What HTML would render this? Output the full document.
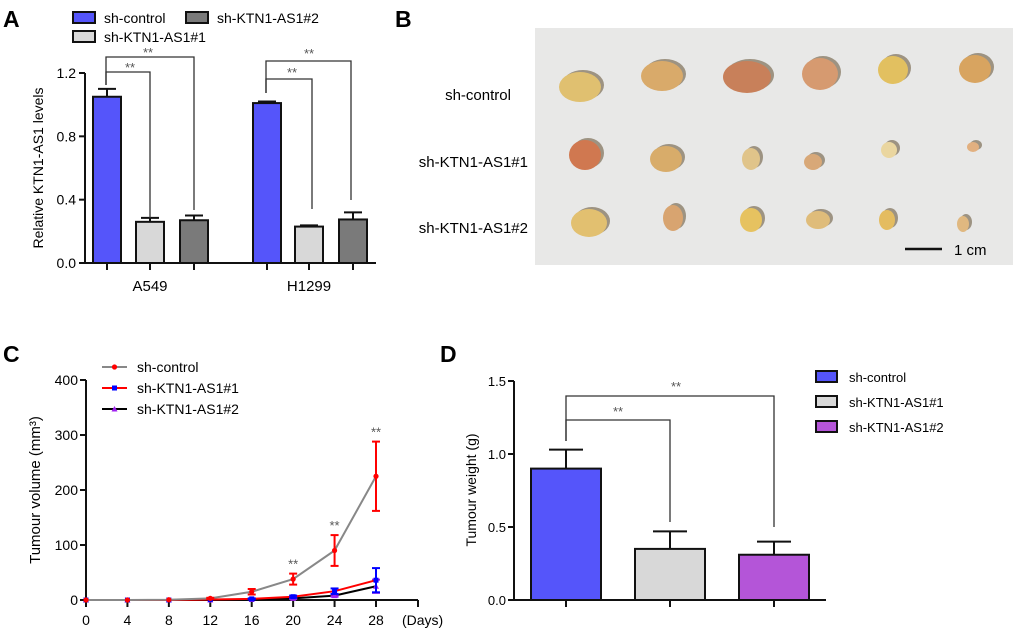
<!DOCTYPE html>
<html><head><meta charset="utf-8"><style>
html,body{margin:0;padding:0;background:#fff;}
svg{display:block;font-family:"Liberation Sans",Arial,sans-serif;}
</style></head><body>
<svg id="fig" width="1020" height="634" viewBox="0 0 1020 634" xmlns="http://www.w3.org/2000/svg">
<g font-weight="bold" font-size="23">
<text x="3" y="27">A</text>
<text x="395" y="27">B</text>
<text x="3" y="362">C</text>
<text x="440" y="362">D</text>
</g>
<g id="pa"></g>
<g id="pb"></g>
<g id="pc"></g>
<g id="pd"></g>
</svg>
<script>
// Panel A data
const aGroups = ['A549', 'H1299'];
const aSeries = ['sh-control', 'sh-KTN1-AS1#1', 'sh-KTN1-AS1#2'];
const aValues = [[1.05, 0.26, 0.27], [1.01, 0.23, 0.275]];
const aErrors = [[0.05, 0.025, 0.03], [0.01, 0.008, 0.045]];
const aTicks = [0.0, 0.4, 0.8, 1.2];
// Panel C data
const cDays = [0, 4, 8, 12, 16, 20, 24, 28];
const cControl = [0, 0, 0.5, 3, 15, 38, 90, 225];
const cControlErr = [0, 0, 0, 1, 5, 10, 28, 63];
const cKd1 = [0, 0, 0, 1, 2, 6, 16, 36];
const cKd1Err = [0, 0, 0, 0, 1, 2, 5, 22];
const cKd2 = [0, 0, 0, 0, 1, 3, 8, 25];
const cKd2Err = [0, 0, 0, 0, 0, 1, 2, 12];
const cYTicks = [0, 100, 200, 300, 400];
// Panel D data
const dGroups = ['sh-control', 'sh-KTN1-AS1#1', 'sh-KTN1-AS1#2'];
const dValues = [0.9, 0.35, 0.31];
const dErrors = [0.13, 0.12, 0.09];
const dTicks = [0.0, 0.5, 1.0, 1.5];

const NS = 'http://www.w3.org/2000/svg';
function mk(parent, tag, attrs, text) {
  const e = document.createElementNS(NS, tag);
  for (const k in attrs) e.setAttribute(k, attrs[k]);
  if (text !== undefined) e.textContent = text;
  parent.appendChild(e);
  return e;
}
function named(e, n) {
  
  
  return e;
}
const K = '#111';

// ===== Panel A =====
(function () {
  const g = document.getElementById('pa');
  const x0 = 85, y0 = 263, yTop = 73, xEnd = 376;
  const ya = v => y0 - (v - 0) / 1.2 * (y0 - yTop);
  const barLeft = [[93, 136, 180], [253, 295, 339]];
  const bw = 28;
  const fills = ['#5555fa', '#d8d8d8', '#7a7a7a'];
  named(mk(g, 'line', {x1: x0, y1: yTop, x2: x0, y2: y0 + 1, stroke: K, 'stroke-width': 2}), 'y-axis-a');
  named(mk(g, 'line', {x1: x0 - 1, y1: y0, x2: xEnd, y2: y0, stroke: K, 'stroke-width': 2}), 'x-axis-a');
  aTicks.forEach(t => {
    const y = ya(t);
    named(mk(g, 'line', {x1: x0 - 6, y1: y, x2: x0, y2: y, stroke: K, 'stroke-width': 2}), 'y-tick-a');
    named(mk(g, 'text', {x: x0 - 9, y: y + 5, 'text-anchor': 'end', 'font-size': 14}, t.toFixed(1)), 'y-tick-label-a');
  });
  aGroups.forEach((grp, gi) => {
    aSeries.forEach((s, si) => {
      const bx = barLeft[gi][si], v = aValues[gi][si], er = aErrors[gi][si];
      const cx = bx + bw / 2;
      named(mk(g, 'line', {x1: cx, y1: ya(v), x2: cx, y2: ya(v + er), stroke: K, 'stroke-width': 2}), 'error-bar-a');
      named(mk(g, 'line', {x1: cx - 9, y1: ya(v + er), x2: cx + 9, y2: ya(v + er), stroke: K, 'stroke-width': 2}), 'error-cap-a');
      const r = mk(g, 'rect', {x: bx, y: ya(v), width: bw, height: y0 - ya(v), fill: fills[si], stroke: K, 'stroke-width': 2});
      
      
      named(mk(g, 'line', {x1: cx, y1: y0, x2: cx, y2: y0 + 7, stroke: K, 'stroke-width': 2}), 'x-tick-a');
    });
    const mid = barLeft[gi][1] + bw / 2;
    named(mk(g, 'text', {x: mid, y: 291, 'text-anchor': 'middle', 'font-size': 15}, grp), 'x-category-label');
  });
  // brackets
  const br = [
    {x1: 106, x2: 194, y: 57, yl: 85, yr: 210, sx: 148, sy: 57},
    {x1: 106, x2: 150, y: 72, yl: 85, yr: 218, sx: 130, sy: 72},
    {x1: 266, x2: 351, y: 61, yl: 93, yr: 200, sx: 309, sy: 58},
    {x1: 266, x2: 312, y: 79, yl: 93, yr: 209, sx: 292, sy: 77}
  ];
  br.forEach(b => {
    named(mk(g, 'polyline', {points: `${b.x1},${b.yl} ${b.x1},${b.y} ${b.x2},${b.y} ${b.x2},${b.yr}`, fill: 'none', stroke: '#333', 'stroke-width': 1.3}), 'significance-bracket');
    named(mk(g, 'text', {x: b.sx, y: b.sy, 'text-anchor': 'middle', 'font-size': 13, fill: '#555'}, '**'), 'significance-stars');
  });
  named(mk(g, 'text', {x: 0, y: 0, transform: 'translate(43,168) rotate(-90)', 'text-anchor': 'middle', 'font-size': 14}, 'Relative KTN1-AS1 levels'), 'y-axis-title-a');
  const leg = [[73, 12, 0], [186, 12, 2], [73, 31, 1]];
  leg.forEach(l => {
    named(mk(g, 'rect', {x: l[0], y: l[1], width: 22, height: 11, fill: fills[l[2]], stroke: K, 'stroke-width': 2}), 'legend-swatch-a');
    named(mk(g, 'text', {x: l[0] + 31, y: l[1] + 11, 'font-size': 14}, aSeries[l[2]]), 'legend-label-a');
  });
})();

// ===== Panel B (photo) =====
(function () {
  const g = document.getElementById('pb');
  named(mk(g, 'rect', {x: 535, y: 28, width: 478, height: 237, fill: '#e8e8e7'}), 'photo-background');
  const tumors = [
    [580,87,21,15,'#e0c070'],[662,76,21,15,'#d9aa6a'],[747,77,24,16,'#c8805a'],[820,74,18,16,'#d69a70'],[893,70,15,14,'#e2c060'],[975,69,16,14,'#d8a460'],
    [585,155,16,15,'#d07850'],[666,159,16,13,'#d8ac6a'],[751,159,9,11,'#e0c48a'],[813,162,9,8,'#d8a878'],[889,150,8,8,'#ead6a0'],[973,147,6,5,'#e2b080'],
    [589,223,18,14,'#e2c070'],[673,218,10,13,'#d8a470'],[751,220,11,12,'#e6c260'],[818,220,12,9,'#dfbc7a'],[887,220,8,10,'#e4bc60'],[963,224,6,8,'#e0b880']
  ];
  tumors.forEach(t => {
    named(mk(g, 'ellipse', {cx: t[0] + 3, cy: t[1] - 2, rx: t[2], ry: t[3], fill: '#6a5a40', opacity: 0.6}), 'tumour-shadow');
    named(mk(g, 'ellipse', {cx: t[0], cy: t[1], rx: t[2], ry: t[3], fill: t[4]}), 'tumour');
  });
  named(mk(g, 'line', {x1: 905, y1: 249, x2: 942, y2: 249, stroke: K, 'stroke-width': 2.5}), 'scale-bar');
  named(mk(g, 'text', {x: 954, y: 255, 'font-size': 15}, '1 cm'), 'scale-bar-label');
  named(mk(g, 'text', {x: 478, y: 100, 'text-anchor': 'middle', 'font-size': 15}, 'sh-control'), 'row-label-control');
  named(mk(g, 'text', {x: 528, y: 167, 'text-anchor': 'end', 'font-size': 15}, 'sh-KTN1-AS1#1'), 'row-label-kd1');
  named(mk(g, 'text', {x: 528, y: 233, 'text-anchor': 'end', 'font-size': 15}, 'sh-KTN1-AS1#2'), 'row-label-kd2');
})();

// ===== Panel C =====
(function () {
  const g = document.getElementById('pc');
  const x0 = 86, y0 = 600, yTop = 380, xEnd = 418;
  const xc = d => x0 + d / 28 * (376 - x0);
  const yc = v => y0 - v / 400 * (y0 - yTop);
  named(mk(g, 'line', {x1: x0, y1: yTop, x2: x0, y2: y0 + 1, stroke: K, 'stroke-width': 2}), 'y-axis-c');
  named(mk(g, 'line', {x1: x0 - 1, y1: y0, x2: xEnd, y2: y0, stroke: K, 'stroke-width': 2}), 'x-axis-c');
  named(mk(g, 'line', {x1: xEnd, y1: y0, x2: xEnd, y2: y0 + 7, stroke: K, 'stroke-width': 2}), 'x-tick-c');
  cYTicks.forEach(t => {
    named(mk(g, 'line', {x1: x0 - 6, y1: yc(t), x2: x0, y2: yc(t), stroke: K, 'stroke-width': 2}), 'y-tick-c');
    named(mk(g, 'text', {x: x0 - 8, y: yc(t) + 5, 'text-anchor': 'end', 'font-size': 14}, String(t)), 'y-tick-label-c');
  });
  cDays.forEach(d => {
    named(mk(g, 'line', {x1: xc(d), y1: y0, x2: xc(d), y2: y0 + 7, stroke: K, 'stroke-width': 2}), 'x-tick-c');
    named(mk(g, 'text', {x: xc(d), y: 625, 'text-anchor': 'middle', 'font-size': 14}, String(d)), 'x-tick-label-c');
  });
  named(mk(g, 'text', {x: 402, y: 625, 'font-size': 14}, '(Days)'), 'x-axis-title-c');
  named(mk(g, 'text', {x: 0, y: 0, transform: 'translate(40,490) rotate(-90)', 'text-anchor': 'middle', 'font-size': 15}, 'Tumour volume (mm³)'), 'y-axis-title-c');
  const series = [
    {name: 'sh-control', v: cControl, e: cControlErr, line: '#888', mark: '#f00', shape: 'circle'},
    {name: 'sh-KTN1-AS1#1', v: cKd1, e: cKd1Err, line: '#f00', mark: '#00f', shape: 'square'},
    {name: 'sh-KTN1-AS1#2', v: cKd2, e: cKd2Err, line: '#000', mark: '#a020f0', shape: 'tri'}
  ];
  function marker(p, x, y, s) {
    if (s.shape === 'circle') return mk(p, 'circle', {cx: x, cy: y, r: 2.6, fill: s.mark});
    if (s.shape === 'square') return mk(p, 'rect', {x: x - 2.5, y: y - 2.5, width: 5, height: 5, fill: s.mark});
    return mk(p, 'polygon', {points: `${x},${y - 3} ${x - 3},${y + 2.5} ${x + 3},${y + 2.5}`, fill: s.mark});
  }
  series.slice().reverse().forEach(s => {
    const pts = cDays.map((d, i) => `${xc(d)},${yc(s.v[i])}`).join(' ');
    named(mk(g, 'polyline', {points: pts, fill: 'none', stroke: s.line, 'stroke-width': 2}), 'series-line-' + s.name);
    cDays.forEach((d, i) => {
      if (s.e[i] > 0) {
        const x = xc(d), ec = s.shape === 'circle' ? '#f00' : s.mark;
        named(mk(g, 'line', {x1: x, y1: yc(s.v[i] + s.e[i]), x2: x, y2: yc(Math.max(0, s.v[i] - s.e[i])), stroke: ec, 'stroke-width': 2}), 'error-bar-c');
        named(mk(g, 'line', {x1: x - 4, y1: yc(s.v[i] + s.e[i]), x2: x + 4, y2: yc(s.v[i] + s.e[i]), stroke: ec, 'stroke-width': 2}), 'error-cap-c');
        named(mk(g, 'line', {x1: x - 4, y1: yc(Math.max(0, s.v[i] - s.e[i])), x2: x + 4, y2: yc(Math.max(0, s.v[i] - s.e[i])), stroke: ec, 'stroke-width': 2}), 'error-cap-c');
      }
      const m = marker(g, xc(d), yc(s.v[i]), s);
      
      
    });
  });
  [5, 6, 7].forEach(i => {
    const top = cControl[i] + cControlErr[i];
    named(mk(g, 'text', {x: xc(cDays[i]), y: yc(top) - 5, 'text-anchor': 'middle', 'font-size': 13, fill: '#555'}, '**'), 'significance-stars-c');
  });
  series.forEach((s, i) => {
    const y = 367 + i * 21;
    named(mk(g, 'line', {x1: 102, y1: y, x2: 127, y2: y, stroke: s.line, 'stroke-width': 2}), 'legend-line-c');
    named(marker(g, 114.5, y, s), 'legend-marker-c');
    named(mk(g, 'text', {x: 137, y: y + 5, 'font-size': 14}, s.name), 'legend-label-c');
  });
})();

// ===== Panel D =====
(function () {
  const g = document.getElementById('pd');
  const x0 = 514, y0 = 600, yTop = 381, xEnd = 826;
  const yd = v => y0 - v / 1.5 * (y0 - yTop);
  const barLeft = [531, 635, 739], bw = 70;
  const fills = ['#5555fa', '#d8d8d8', '#b455d8'];
  named(mk(g, 'line', {x1: x0, y1: yTop, x2: x0, y2: y0 + 1, stroke: K, 'stroke-width': 2}), 'y-axis-d');
  named(mk(g, 'line', {x1: x0 - 6, y1: y0, x2: xEnd, y2: y0, stroke: K, 'stroke-width': 2}), 'x-axis-d');
  dTicks.forEach(t => {
    named(mk(g, 'line', {x1: x0 - 6, y1: yd(t), x2: x0, y2: yd(t), stroke: K, 'stroke-width': 2}), 'y-tick-d');
    named(mk(g, 'text', {x: x0 - 8, y: yd(t) + 5, 'text-anchor': 'end', 'font-size': 13}, t.toFixed(1)), 'y-tick-label-d');
  });
  dGroups.forEach((grp, i) => {
    const bx = barLeft[i], cx = bx + bw / 2, v = dValues[i], er = dErrors[i];
    named(mk(g, 'line', {x1: cx, y1: yd(v), x2: cx, y2: yd(v + er), stroke: K, 'stroke-width': 2}), 'error-bar-d');
    named(mk(g, 'line', {x1: cx - 17, y1: yd(v + er), x2: cx + 17, y2: yd(v + er), stroke: K, 'stroke-width': 2}), 'error-cap-d');
    const r = mk(g, 'rect', {x: bx, y: yd(v), width: bw, height: y0 - yd(v), fill: fills[i], stroke: K, 'stroke-width': 2});
    
    
    named(mk(g, 'line', {x1: cx, y1: y0, x2: cx, y2: y0 + 7, stroke: K, 'stroke-width': 2}), 'x-tick-d');
    const ly = 377 + i * 25;
    named(mk(g, 'rect', {x: 816, y: ly - 6, width: 21, height: 11, fill: fills[i], stroke: K, 'stroke-width': 2}), 'legend-swatch-d');
    named(mk(g, 'text', {x: 849, y: ly + 5, 'font-size': 13}, grp), 'legend-label-d');
  });
  const br = [
    {x1: 566, x2: 774, y: 396, yl: 441, yr: 527, sx: 676, sy: 391},
    {x1: 566, x2: 670, y: 420, yl: 441, yr: 522, sx: 618, sy: 416}
  ];
  br.forEach(b => {
    named(mk(g, 'polyline', {points: `${b.x1},${b.yl} ${b.x1},${b.y} ${b.x2},${b.y} ${b.x2},${b.yr}`, fill: 'none', stroke: '#333', 'stroke-width': 1.3}), 'significance-bracket-d');
    named(mk(g, 'text', {x: b.sx, y: b.sy, 'text-anchor': 'middle', 'font-size': 13, fill: '#555'}, '**'), 'significance-stars-d');
  });
  named(mk(g, 'text', {x: 0, y: 0, transform: 'translate(476,490) rotate(-90)', 'text-anchor': 'middle', 'font-size': 14}, 'Tumour weight (g)'), 'y-axis-title-d');
})();
</script>
</body></html>
